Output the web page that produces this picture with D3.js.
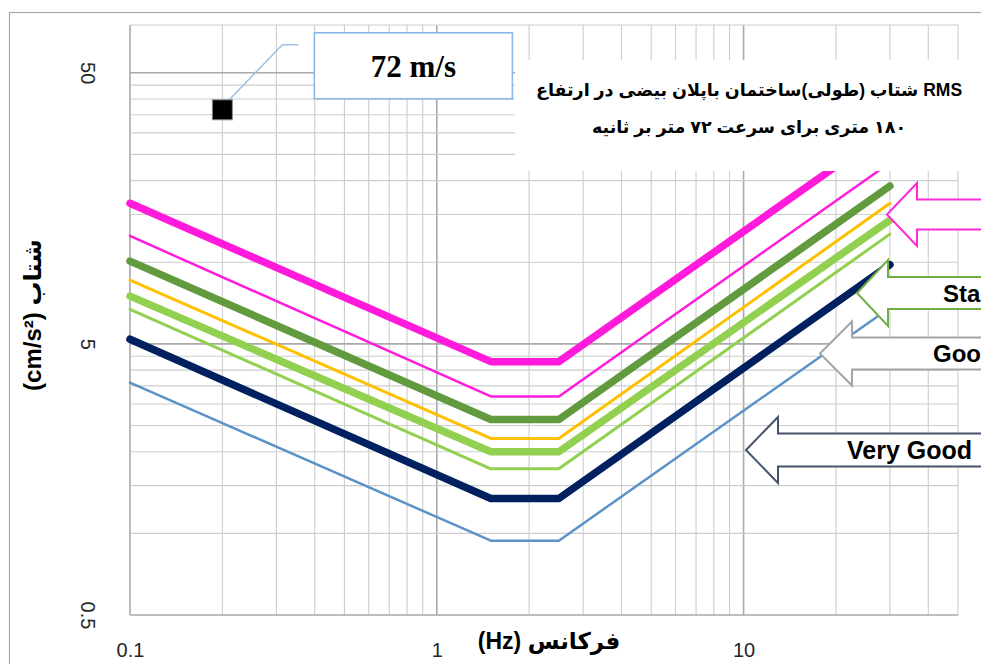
<!DOCTYPE html>
<html>
<head>
<meta charset="utf-8">
<script src="https://cdn.jsdelivr.net/npm/d3@7"></script>
<style>
  body { margin: 0; background: #fff; }
  svg { display: block; }
</style>
</head>
<body>
<svg id="chart" width="981" height="664"></svg>
<script>
// ---- data ----------------------------------------------------------------
// corner frequencies (Hz) shared by every limit curve
const frequencies = [0.1, 1.5, 2.5, 30];

// RMS acceleration (cm/s²) of each curve at those frequencies
const magentaHeavy = [16.5, 4.3, 4.3, 31.2];
const magentaLight = [12.5, 3.2, 3.2, 23.3];
const greenHeavy   = [10.1, 2.63, 2.63, 19.1];
const amberLight   = [8.6, 2.24, 2.24, 16.5];
const limeHeavy    = [7.5, 2.0, 2.0, 14.3];
const limeLight    = [6.7, 1.73, 1.73, 12.7];
const navyHeavy    = [5.2, 1.345, 1.345, 9.8];
const blueLight    = [3.6, 0.94, 0.94, 6.8];

// building response at 72 m/s
const pointFreq  = [0.2];
const pointAccel = [36.5];
const pointLabel = "72 m/s";

// axis tick labels
const xTickLabels = [0.1, 1, 10];
const yTickLabels = [0.5, 5, 50];

// comfort category labels on the right-hand arrows (running off the page edge)
const arrowLabels = ["", "Sta", "Goo", "Very Good"];

const titleLines = [
  "RMS شتاب (طولی)ساختمان باپلان بیضی  در ارتفاع",
  "۱۸۰ متری برای سرعت ۷۲ متر بر ثانیه"
];
const xTitle = "فرکانس (Hz)";
const yTitle = "شتاب (cm/s²)";

// ---- styles --------------------------------------------------------------
const seriesList = [
  { values: magentaHeavy, color: "#ff1adc", width: 7.5 },
  { values: magentaLight, color: "#ff1adc", width: 2.5 },
  { values: greenHeavy,   color: "#629a3e", width: 7.5 },
  { values: amberLight,   color: "#ffc000", width: 3 },
  { values: limeHeavy,    color: "#92d050", width: 7.5 },
  { values: limeLight,    color: "#92d050", width: 3 },
  { values: navyHeavy,    color: "#002060", width: 7.5 },
  { values: blueLight,    color: "#5b93c9", width: 2.5 }
];

const svg = d3.select("#chart");
const plot = { left: 130, right: 958, top: 25, bottom: 615 };

const x = d3.scaleLog().domain([0.1, 50]).range([plot.left, plot.right]);
const y = d3.scaleLog().domain([0.5, 75]).range([plot.bottom, plot.top]);

// chart frame
svg.append("rect")
  .attr("x", 9.5).attr("y", 12.5)
  .attr("width", 1000).attr("height", 700)
  .attr("fill", "#fff").attr("stroke", "#a6a6a6").attr("stroke-width", 1.2);

// ---- gridlines -----------------------------------------------------------
const xGrid = [];
[0.1, 1, 10].forEach(d => { for (let k = 1; k <= 9; k++) { const v = +(d * k).toPrecision(3); if (v <= 50) xGrid.push(v); } });
const yGrid = [];
[0.5, 5].forEach(d => { for (let k = 1; k <= 9; k++) yGrid.push(+(d * k).toPrecision(3)); });
yGrid.push(50);

const isMajorX = v => [0.1, 1, 10].includes(v);
const isMajorY = v => [0.5, 5, 50].includes(v);

const grid = svg.append("g").attr("class", "grid");
grid.selectAll("line.v").data(xGrid).join("line")
  .attr("class", "v")
  .attr("x1", d => x(d)).attr("x2", d => x(d))
  .attr("y1", plot.top).attr("y2", plot.bottom)
  .attr("stroke", d => isMajorX(d) ? "#a9a9a9" : "#cdcdcd")
  .attr("stroke-width", d => isMajorX(d) ? 1.6 : 1.1);
grid.selectAll("line.h").data(yGrid).join("line")
  .attr("class", "h")
  .attr("x1", plot.left).attr("x2", plot.right)
  .attr("y1", d => y(d)).attr("y2", d => y(d))
  .attr("stroke", d => isMajorY(d) ? "#a9a9a9" : "#cdcdcd")
  .attr("stroke-width", d => isMajorY(d) ? 1.6 : 1.1);
grid.append("line")
  .attr("x1", plot.left).attr("x2", plot.right)
  .attr("y1", plot.top).attr("y2", plot.top)
  .attr("stroke", "#cdcdcd").attr("stroke-width", 1.1);

// ---- curves --------------------------------------------------------------
const line = d3.line().x(d => x(d[0])).y(d => y(d[1]));
svg.append("g").selectAll("path").data(seriesList).join("path")
  .attr("d", s => line(frequencies.map((f, i) => [f, s.values[i]])))
  .attr("fill", "none")
  .attr("stroke", s => s.color)
  .attr("stroke-width", s => s.width)
  .attr("stroke-linecap", "round")
  .attr("stroke-linejoin", "round");

// ---- 72 m/s point with its callout --------------------------------------
const px = x(pointFreq[0]), py = y(pointAccel[0]);
svg.append("path")
  .attr("d", `M${px + 5},${py - 8} L${px + 60},${py - 65} L${px + 76},${py - 65}`)
  .attr("fill", "none").attr("stroke", "#9dc3e6").attr("stroke-width", 1.6);
svg.append("rect")
  .attr("x", px - 10).attr("y", py - 10).attr("width", 20).attr("height", 20)
  .attr("fill", "#000").attr("stroke", "#8c8c8c").attr("stroke-width", 1);
svg.append("rect")
  .attr("x", px + 92).attr("y", py - 77).attr("width", 198).attr("height", 66)
  .attr("fill", "#fff").attr("stroke", "#8db7e6").attr("stroke-width", 1.6);
svg.append("text")
  .attr("x", px + 191).attr("y", py - 33)
  .attr("text-anchor", "middle")
  .attr("font-family", "'Liberation Serif', 'Times New Roman', serif")
  .attr("font-weight", "bold").attr("font-size", 31)
  .attr("fill", "#000")
  .text(pointLabel);

// ---- title block ---------------------------------------------------------
svg.append("rect")
  .attr("x", 515).attr("y", 60).attr("width", 480).attr("height", 111)
  .attr("fill", "#fff");
svg.append("g").selectAll("text").data(titleLines).join("text")
  .attr("x", 749).attr("y", (d, i) => 96 + i * 37)
  .attr("text-anchor", "middle")
  .attr("direction", "rtl")
  .attr("font-family", "'Liberation Sans', 'DejaVu Sans', sans-serif")
  .attr("font-weight", "bold").attr("font-size", 17.5)
  .attr("fill", "#000")
  .text(d => d);

// ---- axes ----------------------------------------------------------------
const xAxis = svg.append("g")
  .attr("transform", `translate(0,${plot.bottom + 35})`)
  .call(d3.axisBottom(x).tickValues(xTickLabels).tickSize(0).tickPadding(0).tickFormat(d3.format("")));
xAxis.select(".domain").remove();
xAxis.selectAll("text")
  .attr("dy", "0.35em")
  .attr("font-family", "'Liberation Sans', Arial, sans-serif")
  .attr("font-size", 20).attr("fill", "#262626");

const yAxis = svg.append("g")
  .attr("transform", "translate(88,0)")
  .call(d3.axisLeft(y).tickValues(yTickLabels).tickSize(0).tickFormat(d3.format("")));
yAxis.select(".domain").remove();
yAxis.selectAll("text")
  .attr("x", 0).attr("dy", "0.35em")
  .attr("text-anchor", "middle")
  .attr("transform", "rotate(90)")
  .attr("font-family", "'Liberation Sans', Arial, sans-serif")
  .attr("font-size", 20).attr("fill", "#262626");

svg.append("text")
  .attr("x", 549).attr("y", 649)
  .attr("text-anchor", "middle").attr("direction", "rtl")
  .attr("font-family", "'Liberation Sans', 'DejaVu Sans', sans-serif")
  .attr("font-weight", "bold").attr("font-size", 23).attr("fill", "#000")
  .text(xTitle);

svg.append("text")
  .attr("transform", "translate(33,315) rotate(-90)")
  .attr("dy", "0.35em")
  .attr("text-anchor", "middle").attr("direction", "rtl")
  .attr("font-family", "'Liberation Sans', 'DejaVu Sans', sans-serif")
  .attr("font-weight", "bold").attr("font-size", 24).attr("fill", "#000")
  .text(yTitle);

// ---- category arrows -----------------------------------------------------
const arrowShapes = [
  { tipX: 887, tipY: 214.5, headX: 917, head: 31.5, shaft: 15,   color: "#ff29d7", textX: 948, size: 25 },
  { tipX: 857, tipY: 293,   headX: 888, head: 33,   shaft: 16,   color: "#70ad47", textX: 943, size: 24 },
  { tipX: 820, tipY: 353.5, headX: 852, head: 32,   shaft: 16,   color: "#a5a5a5", textX: 933, size: 24 },
  { tipX: 746, tipY: 450,   headX: 778, head: 33,   shaft: 16.5, color: "#44546a", textX: 847, size: 25 }
];
const arrows = svg.append("g").selectAll("g").data(arrowShapes).join("g");
arrows.append("path")
  .attr("d", a => `M${a.tipX},${a.tipY} L${a.headX},${a.tipY - a.head} L${a.headX},${a.tipY - a.shaft} L1000,${a.tipY - a.shaft} L1000,${a.tipY + a.shaft} L${a.headX},${a.tipY + a.shaft} L${a.headX},${a.tipY + a.head} Z`)
  .attr("fill", "#fff").attr("stroke", a => a.color).attr("stroke-width", 2);
arrows.append("text")
  .attr("x", a => a.textX).attr("y", a => a.tipY).attr("dy", "0.36em")
  .attr("font-family", "'Liberation Sans', Arial, sans-serif")
  .attr("font-weight", "bold").attr("font-size", a => a.size).attr("fill", "#000")
  .text((a, i) => arrowLabels[i]);
</script>
</body>
</html>
